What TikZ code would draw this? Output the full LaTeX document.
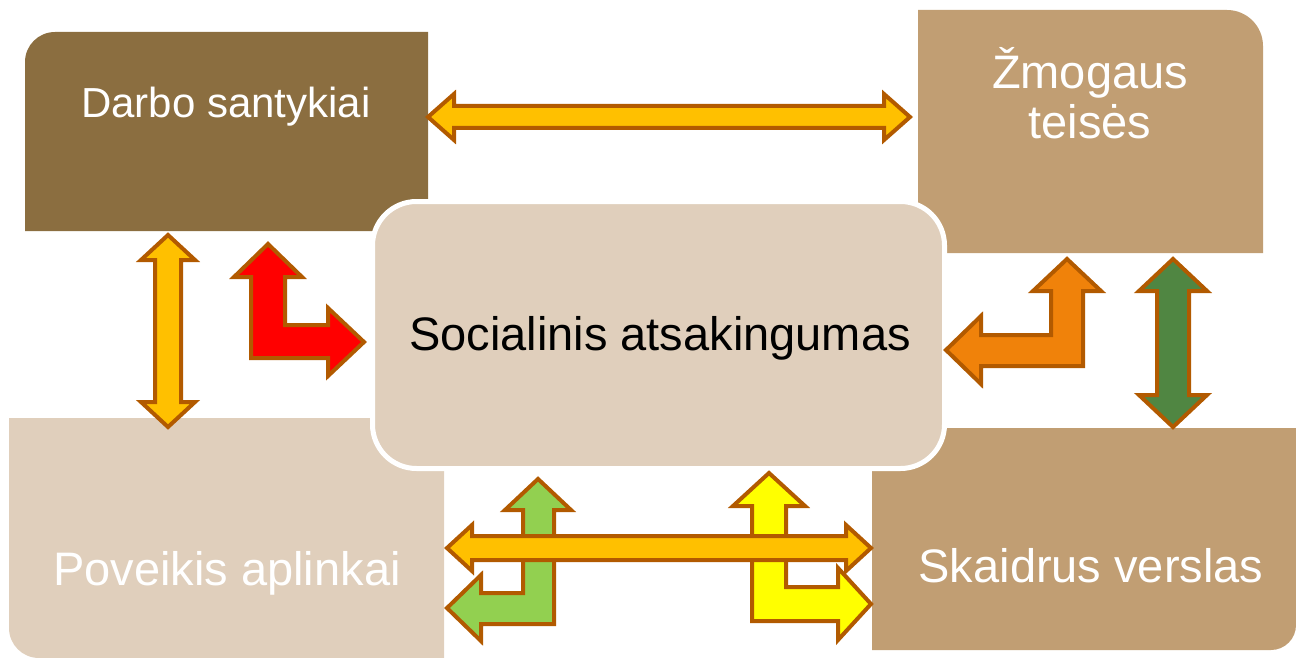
\documentclass[tikz,border=0pt]{standalone}
\usepackage{fontspec}
\setmainfont{Liberation Sans}
\definecolor{darkbrown}{RGB}{139,110,64}
\definecolor{tanbox}{RGB}{193,158,115}
\definecolor{lightbox}{RGB}{224,207,188}
\definecolor{arrowline}{RGB}{178,90,0}
\definecolor{goldfill}{RGB}{255,192,0}
\definecolor{orangefill}{RGB}{240,130,10}
\definecolor{darkgreen}{RGB}{80,134,66}
\definecolor{lightgreen}{RGB}{146,208,80}
\definecolor{yellowfill}{RGB}{255,255,0}
\definecolor{redfill}{RGB}{255,0,0}
\tikzset{
  blockarrow/.style={draw=arrowline,line width=4pt,line join=miter,miter limit=10},
  boxtext/.style={inner sep=0pt,text=white,font=\fontsize{47}{50}\selectfont,align=center},
}
% horizontal double arrow: xleft, xright, y, headlen, headhalf, shafthalf, fill
\newcommand\hdarrow[7]{%
  \draw[blockarrow,fill=#7] (#1,#3) -- (#1+#4,#3-#5) -- (#1+#4,#3-#6) -- (#2-#4,#3-#6) -- (#2-#4,#3-#5) -- (#2,#3) -- (#2-#4,#3+#5) -- (#2-#4,#3+#6) -- (#1+#4,#3+#6) -- (#1+#4,#3+#5) -- cycle;}
% vertical double arrow: ytop, ybottom, x, headlen, headhalf, shafthalf, fill
\newcommand\vdarrow[7]{%
  \draw[blockarrow,fill=#7] (#3,#1) -- (#3+#5,#1+#4) -- (#3+#6,#1+#4) -- (#3+#6,#2-#4) -- (#3+#5,#2-#4) -- (#3,#2) -- (#3-#5,#2-#4) -- (#3-#6,#2-#4) -- (#3-#6,#1+#4) -- (#3-#5,#1+#4) -- cycle;}
\begin{document}
\begin{tikzpicture}[x=1pt,y=-1pt]
\useasboundingbox (0,0) rectangle (1296,658);
% outer boxes
\fill[darkbrown] (25,231) -- (25,62) .. controls (25,45.4) and (38.4,32) .. (55,32) -- (428,32) -- (428,231) -- cycle;
\fill[tanbox] (918,10) -- (1227,10) .. controls (1246.9,10) and (1263,26.1) .. (1263,46) -- (1263,253) -- (918,253) -- cycle;
\fill[lightbox] (9,418) -- (444,418) -- (444,658) -- (39,658) .. controls (22.4,658) and (9,644.6) .. (9,628) -- cycle;
\fill[tanbox] (872,428) -- (1296,428) -- (1296,625) .. controls (1296,638.8) and (1284.8,650) .. (1271,650) -- (872,650) -- cycle;
% central box
\draw[white,line width=5pt,fill=lightbox,rounded corners=44pt] (372.5,201.5) rectangle (944.5,468.5);
% texts
\node[boxtext,anchor=base,font=\fontsize{42}{50}\selectfont] (darbo) at (226,118) {Darbo santykiai};
\node[boxtext,anchor=base] (zmogaus) at (1090,139) {Žmogaus\\teisės};
\node[boxtext,anchor=base,text=black] (social) at (660,350) {Socialinis atsakingumas};
\node[boxtext,anchor=base] (poveikis) at (227,585) {Poveikis aplinkai};
\node[boxtext,anchor=base] (skaidrus) at (1091,582) {Skaidrus verslas};
% arrows
\hdarrow{428}{910}{117}{26}{23}{11}{goldfill}
\vdarrow{235}{427}{168}{25}{27}{13}{goldfill}
\vdarrow{259}{427}{1173}{32}{34}{16}{darkgreen}
% red bent
\draw[blockarrow,fill=redfill] (268,244) -- (302,277) -- (285,277) -- (285,325) -- (328,325) -- (328,308) -- (364,342) -- (328,376) -- (328,358) -- (251,358) -- (251,277) -- (234,277) -- cycle;
% orange bent
\draw[blockarrow,fill=orangefill] (1067,259) -- (1101,291) -- (1083,291) -- (1083,366) -- (981,366) -- (981,384) -- (946,350) -- (981,316) -- (981,335) -- (1051,335) -- (1051,291) -- (1033,291) -- cycle;
% light green bent
\draw[blockarrow,fill=lightgreen] (538,479) -- (571,510) -- (554,510) -- (554,624) -- (481,624) -- (481,641) -- (447,608) -- (481,575) -- (481,593) -- (523,593) -- (523,510) -- (505,510) -- cycle;
% yellow bent
\draw[blockarrow,fill=yellowfill] (769,473) -- (805,506) -- (786,506) -- (786,587) -- (838,587) -- (838,568) -- (871,604) -- (838,640) -- (838,621) -- (752,621) -- (752,506) -- (733,506) -- cycle;
% bottom horizontal
\hdarrow{447}{871}{548}{25}{23}{12}{goldfill}
\end{tikzpicture}
\end{document}
